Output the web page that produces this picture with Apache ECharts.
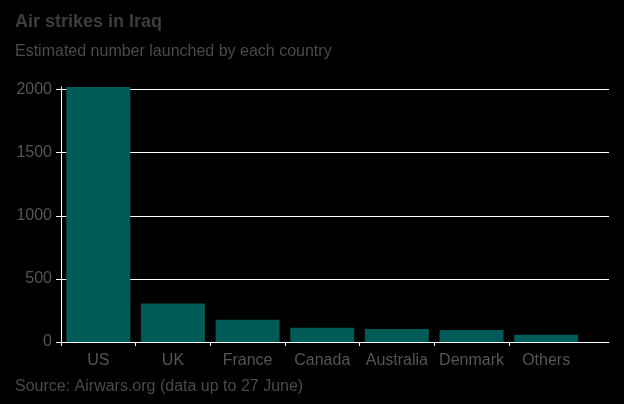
<!DOCTYPE html>
<html>
<head>
<meta charset="utf-8">
<script src="https://cdn.jsdelivr.net/npm/echarts@6/dist/echarts.min.js"></script>
<style>
html,body{margin:0;padding:0;background:#000;}
#chart{width:624px;height:404px;}
</style>
</head>
<body>
<div id="chart"></div>
<script>
const categories = ['US', 'UK', 'France', 'Canada', 'Australia', 'Denmark', 'Others'];
const strikes = [2020, 304, 177, 113, 103, 95, 58];
const yTicks = [0, 500, 1000, 1500, 2000];

const FONT = '"Liberation Sans", Arial, sans-serif';
const chart = echarts.init(document.getElementById('chart'));
chart.setOption({
  backgroundColor: '#000000',
  animation: false,
  title: [
    { text: 'Air strikes in Iraq', left: 15, top: 13, padding: 0,
      textStyle: { color: '#3d3d3d', fontSize: 18, fontWeight: 'bold', fontFamily: FONT } },
    { text: 'Estimated number launched by each country', left: 15, top: 44, padding: 0,
      textStyle: { color: '#4a4a4a', fontSize: 16, fontWeight: 'normal', fontFamily: FONT } },
    { text: 'Source: Airwars.org (data up to 27 June)', left: 15, top: 379, padding: 0,
      textStyle: { color: '#4a4a4a', fontSize: 16, fontWeight: 'normal', fontFamily: FONT } }
  ],
  grid: [
    { left: 61, right: 15, top: 89.5, bottom: 62 },
    { left: 61, width: 522.5, top: 87, bottom: 62 }
  ],
  xAxis: [
    { type: 'value', gridIndex: 0, min: 0, max: 548 / 74.65,
      axisLine: { show: true, lineStyle: { color: '#ffffff', width: 1 } },
      axisTick: { show: true, length: 4, customValues: [0, 1, 2, 3, 4, 5, 6], lineStyle: { color: '#ffffff' } },
      axisLabel: { show: false }, splitLine: { show: false } },
    { type: 'category', gridIndex: 1, data: categories,
      axisLine: { show: false }, axisTick: { show: false },
      axisLabel: { color: '#555555', fontSize: 16, fontFamily: FONT, margin: 11, interval: 0 } }
  ],
  yAxis: [
    { type: 'value', gridIndex: 0, min: 0, max: 2000, interval: 500,
      axisLine: { show: false },
      axisTick: { show: true, length: 5, lineStyle: { color: '#ffffff' } },
      axisLabel: { color: '#555555', fontSize: 16, fontFamily: FONT, margin: 9,
        customValues: yTicks, formatter: function (v) { return String(v); } },
      splitLine: { show: true, lineStyle: { color: '#ffffff', width: 1 } } },
    { type: 'value', gridIndex: 1, min: 0, max: 2020,
      axisLine: { show: true, lineStyle: { color: '#ffffff', width: 1 } },
      axisTick: { show: false }, axisLabel: { show: false }, splitLine: { show: false } }
  ],
  series: [{
    type: 'bar', xAxisIndex: 1, yAxisIndex: 1,
    data: strikes, barWidth: 64,
    itemStyle: { color: '#005b57' }
  }]
});
</script>
</body>
</html>
